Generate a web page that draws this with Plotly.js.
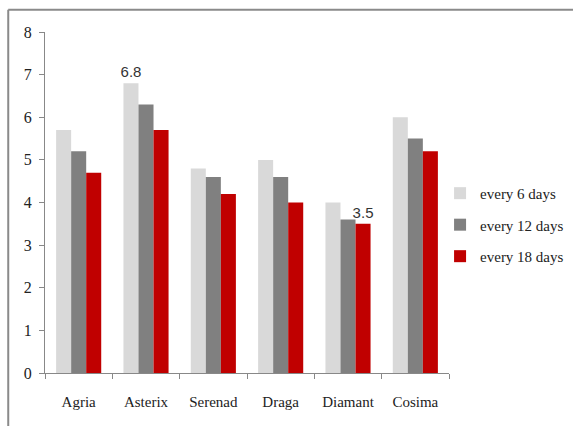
<!DOCTYPE html>
<html>
<head>
<meta charset="utf-8">
<script src="https://cdn.plot.ly/plotly-3.0.1.min.js"></script>
<style>html,body{margin:0;padding:0;background:#fff;}#chart{width:573px;height:426px;}</style>
</head>
<body>
<div id="chart"></div>
<script>
const categories = ['Agria', 'Asterix', 'Serenad', 'Draga', 'Diamant', 'Cosima'];
const seriesNames = ['every 6 days', 'every 12 days', 'every 18 days'];
const every6 = [5.7, 6.8, 4.8, 5.0, 4.0, 6.0];
const every12 = [5.2, 6.3, 4.6, 4.6, 3.6, 5.5];
const every18 = [4.7, 5.7, 4.2, 4.0, 3.5, 5.2];
const labelled6 = [false, true, false, false, false, false];
const labelled12 = [false, false, false, false, false, false];
const labelled18 = [false, false, false, false, true, false];
const colors = ['#d9d9d9', '#808080', '#c00000'];

const values = [every6, every12, every18];
const labelled = [labelled6, labelled12, labelled18];

const traces = values.map((v, i) => ({
  type: 'bar',
  name: seriesNames[i],
  x: categories,
  y: v,
  text: v.map((val, j) => labelled[i][j] ? String(val) : ''),
  textposition: 'outside',
  constraintext: 'none',
  cliponaxis: false,
  textfont: {family: 'Liberation Sans Narrow, Liberation Sans, sans-serif', size: 15, color: '#333'},
  marker: {color: colors[i], line: {width: 0}},
  legendgroup: 'g' + i,
  hoverinfo: 'skip'
}));

const layout = {
  width: 573, height: 426,
  margin: {l: 45, r: 124, t: 32, b: 53, autoexpand: false},
  paper_bgcolor: '#fff', plot_bgcolor: '#fff',
  barmode: 'group', bargap: 0.33, bargroupgap: 0,
  font: {family: 'Liberation Serif, Times New Roman, serif', size: 15, color: '#222'},
  showlegend: true,
  legend: {
    xref: 'container', x: 0.768, y: 0.575, xanchor: 'left', yanchor: 'top',
    font: {family: 'Liberation Serif, serif', size: 15, color: '#222'},
    tracegroupgap: 9, itemwidth: 30
  },
  xaxis: {
    type: 'category',
    showline: true, linecolor: '#888', linewidth: 1,
    ticks: 'outside', tickson: 'boundaries', ticklen: 5, tickcolor: '#888',
    ticklabelstandoff: 15, tickangle: 0,
    showgrid: false, zeroline: false,
    tickfont: {family: 'Liberation Serif, serif', size: 15, color: '#222'}
  },
  yaxis: {
    range: [0, 8], dtick: 1,
    showline: true, linecolor: '#888', linewidth: 1,
    ticks: 'outside', ticklen: 5, tickcolor: '#888',
    ticklabelstandoff: 4,
    showgrid: false, zeroline: false,
    tickfont: {family: 'Liberation Serif, serif', size: 16, color: '#222'}
  },
  shapes: [
    {type: 'line', xref: 'paper', yref: 'paper', x0: -0.091, x1: 1.4, y0: 1.065, y1: 1.065, line: {color: '#8a8a8a', width: 2}},
    {type: 'line', xref: 'paper', yref: 'paper', x0: -0.091, x1: -0.091, y0: 1.065, y1: -0.2, line: {color: '#8a8a8a', width: 2}}
  ]
};

Plotly.newPlot('chart', traces, layout, {displayModeBar: false, staticPlot: true});
</script>
</body>
</html>
